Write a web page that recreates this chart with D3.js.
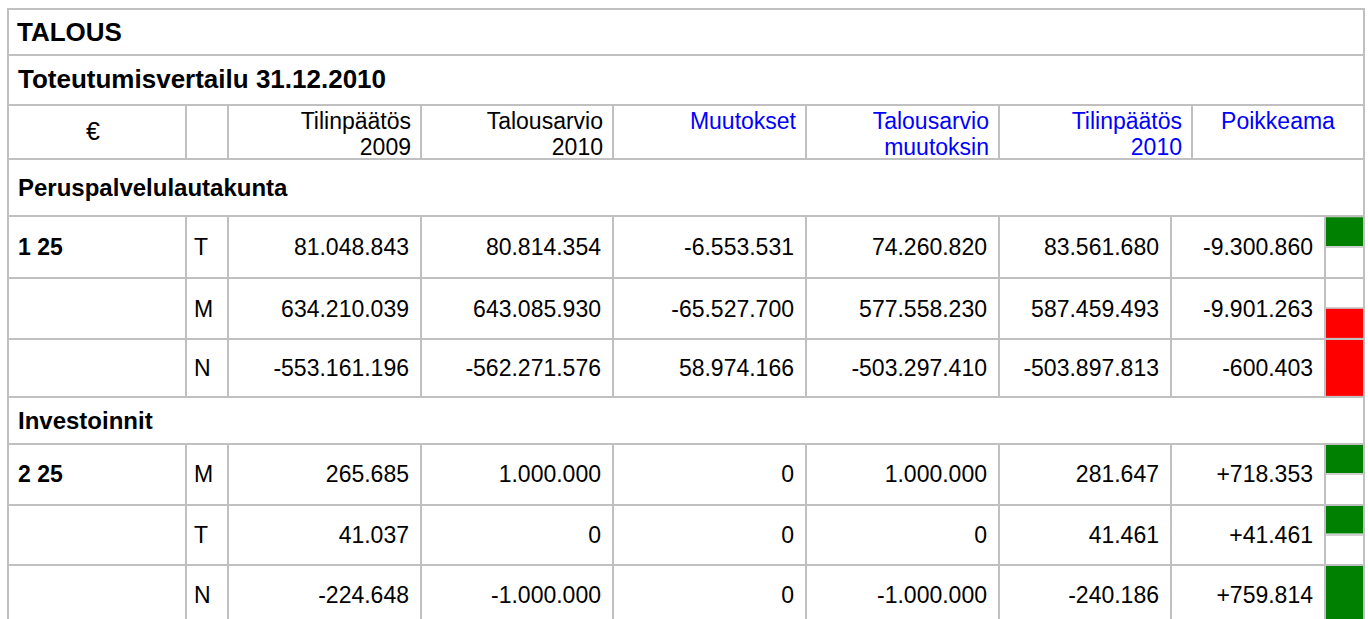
<!DOCTYPE html>
<html>
<head>
<meta charset="utf-8">
<script src="https://cdn.jsdelivr.net/npm/d3@7"></script>
<style>
  body { margin: 0; background: #fff; }
  svg text { font-family: "Liberation Sans", Arial, sans-serif; }
</style>
</head>
<body>
<svg id="chart"></svg>
<script>
// table content
const title = 'TALOUS';
const subtitle = 'Toteutumisvertailu 31.12.2010';
const headerLabels = [['€'], [''], ['Tilinpäätös', '2009'], ['Talousarvio', '2010'], ['Muutokset'],
    ['Talousarvio', 'muutoksin'], ['Tilinpäätös', '2010'], ['Poikkeama']];
const headerBlue = [false, false, false, false, true, true, true, true];

const sectionNames = ['Peruspalvelulautakunta', 'Investoinnit'];
const sectionCodes = ['1 25', '2 25'];
const rowTypes = [['T', 'M', 'N'], ['M', 'T', 'N']];

const tilinpaatos2009 = [[81048843, 634210039, -553161196], [265685, 41037, -224648]];
const talousarvio2010 = [[80814354, 643085930, -562271576], [1000000, 0, -1000000]];
const muutokset = [[-6553531, -65527700, 58974166], [0, 0, 0]];
const talousarvioMuutoksin = [[74260820, 577558230, -503297410], [1000000, 0, -1000000]];
const tilinpaatos2010 = [[83561680, 587459493, -503897813], [281647, 41461, -240186]];
const poikkeama = [[-9300860, -9901263, -600403], [718353, 41461, 759814]];
const signalPart = [['top', 'bottom', 'full'], ['top', 'top', 'full']];
const signalColor = [['green', 'red', 'red'], ['green', 'green', 'green']];

// layout
var width = 1368, height = 619;
var lineColor = '#c0c0c0';
var dataEdges = [8, 186, 228, 421, 613, 806, 999, 1171, 1325, 1364];
var headEdges = [8, 186, 228, 421, 613, 806, 999, 1192, 1364];
var topY = 9;
var titleH = 45.5, subtitleH = 50, headerH = 54;
var sectionH = [57.7, 46.6];
var dataH = [[61.7, 61, 58], [61, 60, 60]];

var fi = d3.formatLocale({ decimal: ',', thousands: '.', grouping: [3], currency: ['', ' €'], minus: '-' });
var fmt = fi.format(',d');
var fmtSigned = fi.format('+,d');

// build rows
var rows = [
    { kind: 'title', h: titleH },
    { kind: 'subtitle', h: subtitleH },
    { kind: 'header', h: headerH }
];
sectionNames.forEach(function (name, s) {
    rows.push({ kind: 'section', h: sectionH[s], s: s });
    rowTypes[s].forEach(function (t, i) {
        rows.push({ kind: 'data', h: dataH[s][i], s: s, i: i });
    });
});
var tops = [topY];
rows.forEach(function (r, k) { tops.push(tops[k] + r.h); });
var rowY = d3.scaleOrdinal().domain(d3.range(rows.length + 1)).range(tops);
rows.forEach(function (r, k) { r.y0 = rowY(k); r.y1 = rowY(k + 1); r.cy = (r.y0 + r.y1) / 2; });

var colX = d3.scaleOrdinal().domain(d3.range(dataEdges.length)).range(dataEdges);
var headX = d3.scaleOrdinal().domain(d3.range(headEdges.length)).range(headEdges);

var svg = d3.select('#chart').attr('width', width).attr('height', height);
svg.append('rect').attr('width', width).attr('height', height).attr('fill', '#fff');

// signal cells
var dataRows = rows.filter(d => d.kind === 'data');
var sig = svg.append('g');
dataRows.forEach(function (r) {
    var part = signalPart[r.s][r.i];
    var x0 = colX(8) + 1, x1 = colX(9) - 1;
    var mid = r.cy;
    var y0 = part === 'bottom' ? mid : r.y0 + 1;
    var y1 = part === 'top' ? mid - 1 : r.y1 - 1;
    sig.append('rect')
        .attr('x', x0).attr('y', y0)
        .attr('width', x1 - x0).attr('height', y1 - y0)
        .attr('fill', signalColor[r.s][r.i]);
    if (part !== 'full') {
        sig.append('line')
            .attr('x1', x0).attr('x2', x1)
            .attr('y1', Math.round(mid)).attr('y2', Math.round(mid))
            .attr('stroke', lineColor).attr('stroke-width', 1.5);
    }
});

// grid lines
var grid = svg.append('g').attr('stroke', lineColor).attr('stroke-width', 2).attr('shape-rendering', 'crispEdges');
tops.forEach(function (y) {
    grid.append('line').attr('x1', headEdges[0] - 1).attr('x2', headEdges[headEdges.length - 1] + 1)
        .attr('y1', Math.round(y)).attr('y2', Math.round(y));
});
[headX(0), headX(headEdges.length - 1)].forEach(function (x) {
    grid.append('line').attr('x1', x).attr('x2', x).attr('y1', topY - 1).attr('y2', height + 10);
});
rows.forEach(function (r) {
    var edges = r.kind === 'header' ? headEdges : r.kind === 'data' ? dataEdges : null;
    if (!edges) return;
    edges.slice(1, -1).forEach(function (x) {
        grid.append('line').attr('x1', x).attr('x2', x)
            .attr('y1', Math.round(r.y0)).attr('y2', Math.round(r.y1));
    });
});

// texts
var txt = svg.append('g').attr('fill', '#000');
var padL = 10, padR = 12;

txt.append('text').attr('x', headX(0) + 9).attr('y', rows[0].cy).attr('dy', '0.34em')
    .style('font-size', '26px').style('font-weight', 'bold').text(title);
txt.append('text').attr('x', headX(0) + padL).attr('y', rows[1].cy).attr('dy', '0.34em')
    .style('font-size', '26px').style('font-weight', 'bold').text(subtitle);

// header row
var hr = rows[2];
headerLabels.forEach(function (lines, c) {
    var color = headerBlue[c] ? '#0000ff' : '#000';
    if (c === 0) {
        txt.append('text').attr('x', (headX(0) + headX(1)) / 2 - 4).attr('y', hr.cy).attr('dy', '0.34em')
            .attr('text-anchor', 'middle').style('font-size', '25px').attr('fill', color).text(lines[0]);
        return;
    }
    var centered = c === headerLabels.length - 1;
    lines.forEach(function (line, j) {
        txt.append('text')
            .attr('x', centered ? (headX(c) + headX(c + 1)) / 2 : headX(c + 1) - 10)
            .attr('y', hr.y0 + 24 + j * 26.7)
            .attr('text-anchor', centered ? 'middle' : 'end')
            .style('font-size', '23px')
            .attr('fill', color)
            .text(line);
    });
});

rows.filter(d => d.kind === 'section').forEach(function (r) {
    txt.append('text').attr('x', headX(0) + padL).attr('y', r.cy).attr('dy', '0.36em')
        .style('font-size', '24px').style('font-weight', 'bold').text(sectionNames[r.s]);
});

var valueCols = [tilinpaatos2009, talousarvio2010, muutokset, talousarvioMuutoksin, tilinpaatos2010, poikkeama];
dataRows.forEach(function (r) {
    if (r.i === 0) {
        txt.append('text').attr('x', colX(0) + padL).attr('y', r.cy).attr('dy', '0.36em')
            .style('font-size', '23px').style('font-weight', 'bold').text(sectionCodes[r.s]);
    }
    txt.append('text').attr('x', colX(1) + 8).attr('y', r.cy).attr('dy', '0.36em')
        .style('font-size', '23px').text(rowTypes[r.s][r.i]);
    valueCols.forEach(function (arr, c) {
        var v = arr[r.s][r.i];
        var s = (c === valueCols.length - 1 && v !== 0) ? fmtSigned(v) : fmt(v);
        txt.append('text').attr('x', colX(c + 3) - padR).attr('y', r.cy).attr('dy', '0.36em')
            .attr('text-anchor', 'end').style('font-size', '23px').text(s);
    });
});
</script>
</body>
</html>
